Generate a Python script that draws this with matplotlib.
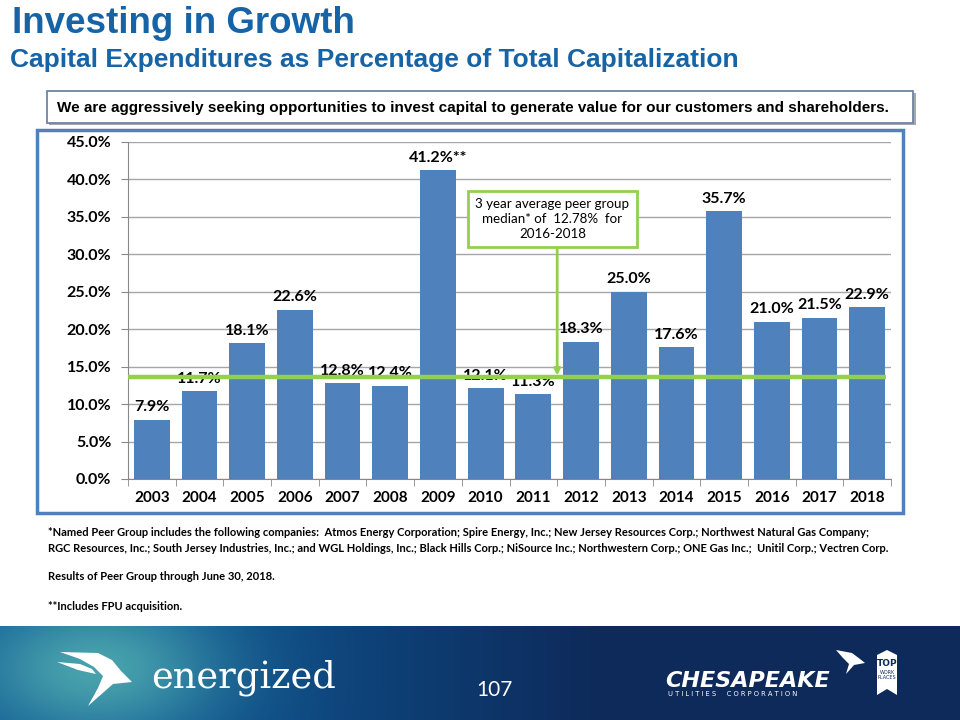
import numpy as np
import matplotlib
matplotlib.use("Agg")
import matplotlib.pyplot as plt
from matplotlib.patches import Rectangle, Polygon
from matplotlib.ticker import FixedLocator, PercentFormatter

years = ["2003", "2004", "2005", "2006", "2007", "2008", "2009", "2010",
         "2011", "2012", "2013", "2014", "2015", "2016", "2017", "2018"]
capex_pct = [7.9, 11.7, 18.1, 22.6, 12.8, 12.4, 41.2, 12.1,
             11.3, 18.3, 25.0, 17.6, 35.7, 21.0, 21.5, 22.9]
bar_labels = ["7.9%", "11.7%", "18.1%", "22.6%", "12.8%", "12.4%", "41.2%**", "12.1%",
              "11.3%", "18.3%", "25.0%", "17.6%", "35.7%", "21.0%", "21.5%", "22.9%"]
peer_line = 13.6
peer_note = "3 year average peer group\nmedian* of  12.78%  for\n2016-2018"

title = "Investing in Growth"
subtitle = "Capital Expenditures as Percentage of Total Capitalization"
tagline = ("We are aggressively seeking opportunities to invest capital to generate "
           "value for our customers and shareholders.")
footnotes = [
    "*Named Peer Group includes the following companies:  Atmos Energy Corporation; Spire Energy, Inc.; "
    "New Jersey Resources Corp.; Northwest Natural Gas Company;",
    "RGC Resources, Inc.; South Jersey Industries, Inc.; and WGL Holdings, Inc.; Black Hills Corp.; "
    "NiSource Inc.; Northwestern Corp.; ONE Gas Inc.;  Unitil Corp.; Vectren Corp.",
    "Results of Peer Group through June 30, 2018.",
    "**Includes FPU acquisition.",
]

BLUE_BAR = "#4F81BD"
GREEN = "#92D050"
TITLE_BLUE = "#1663A5"
W, H = 960, 720

fig = plt.figure(figsize=(9.6, 7.2), dpi=100)

# background canvas in pixel coordinates
bg = fig.add_axes([0, 0, 1, 1], zorder=0)
bg.set_xlim(0, W)
bg.set_ylim(H, 0)
bg.axis("off")

# footer gradient band
xs = np.linspace(0, W, 480)
ys = np.linspace(626, H, 60)
gx, gy = np.meshgrid(xs, ys)
navy = np.array([13, 42, 90]) / 255
mid = np.array([14, 88, 148]) / 255
teal = np.array([72, 162, 172]) / 255
t = np.clip((gx - 150) / 450, 0, 1)[..., None]
base = mid * (1 - t) + navy * t
glow = np.exp(-(((gx - 95) / 120) ** 2 + ((gy - 668) / 70) ** 2))[..., None]
img = base * (1 - glow) + teal * glow
bg.imshow(img, extent=[0, W, H, 626], aspect="auto", zorder=0)

# left bird
bg.add_patch(Polygon([(60, 652), (98, 653), (112, 660), (121, 671), (132, 682), (113, 684),
                      (88, 706), (98, 688), (103, 676), (94, 667), (80, 659)],
                     closed=True, fc="white", ec="none", zorder=2))
bg.add_patch(Polygon([(57, 662), (80, 664), (92, 669), (96, 674), (78, 670)],
                     closed=True, fc="white", ec="none", zorder=2))
bg.text(151, 688, "energized", color="white", fontsize=26.5, family="DejaVu Serif",
        va="baseline", ha="left", zorder=3)
bg.text(494, 690, "107", color="white", fontsize=15, family="Lato", va="center", ha="center", zorder=3)

# chesapeake logo
bg.text(665, 687, "CHESAPEAKE", color="white", fontsize=16, family="DejaVu Sans",
        fontweight="bold", fontstyle="italic", va="baseline", ha="left", zorder=3)
bg.text(668, 694, "U T I L I T I E S     C O R P O R A T I O N", color="white", fontsize=4.9,
        family="DejaVu Sans", va="center", ha="left", zorder=3)
bg.add_patch(Polygon([(836, 650), (852, 653), (860, 659), (865, 663), (854, 665), (846, 674),
                      (849, 664), (843, 658)], closed=True, fc="white", ec="none", zorder=2))
bg.add_patch(Polygon([(877, 655), (887, 650), (897, 655), (897, 695), (887, 689), (877, 695)],
                     closed=True, fc="white", ec="none", zorder=2))
bg.text(887, 664, "TOP", color="#0D2A5A", fontsize=6.5, fontweight="bold", ha="center", va="center", zorder=3)
bg.text(887, 675, "WORK\nPLACES", color="#0D2A5A", fontsize=3.5, ha="center", va="center",
        linespacing=1.0, zorder=3)

# titles
bg.text(12, 33, title, color=TITLE_BLUE, fontsize=26.5, fontweight="bold",
        family="Liberation Sans", va="baseline", ha="left")
bg.text(10, 67, subtitle, color=TITLE_BLUE, fontsize=19, fontweight="bold",
        family="Liberation Sans", va="baseline", ha="left")

# tagline box
bg.add_patch(Rectangle((49, 93), 867, 32, fc="#A8A8A8", ec="none", zorder=1))
bg.add_patch(Rectangle((47, 91), 866, 32, fc="white", ec="#6E85A6", lw=1.3, zorder=2))
bg.text(57, 108, tagline, fontsize=11, fontweight="bold",
        family="Liberation Sans", va="center", ha="left", zorder=3)

# chart border
bg.add_patch(Rectangle((37, 130), 866, 383, fc="white", ec=BLUE_BAR, lw=2.5, zorder=1))

# footnotes
foot_y = [533, 548, 577, 606]
for fy, line in zip(foot_y, footnotes):
    bg.text(48, fy, line, fontsize=8.0, fontweight="bold", family="Lato", va="center", ha="left")

# chart
left, right, top, bottom = 128, 891, 141.7, 479
ax = fig.add_axes([left / W, 1 - bottom / H, (right - left) / W, (bottom - top) / H], zorder=2)
ax.set_facecolor("none")
x = np.arange(len(years))
bars = ax.bar(x, capex_pct, width=0.75, color=BLUE_BAR, zorder=2)
for xi, v, lab in zip(x, capex_pct, bar_labels):
    ax.annotate(lab, (xi, v), xytext=(0, 4), textcoords="offset points", ha="center", va="bottom",
                fontsize=11.5, fontweight="bold", family="Lato", zorder=3)

ax.hlines(peer_line, -0.5, 15.4, color=GREEN, lw=3.2, zorder=4)
ax.text(8.4, 34.7, peer_note, ha="center", va="center", fontsize=9.6, family="Lato",
        linespacing=1.3, zorder=5,
        bbox=dict(boxstyle="square,pad=0.55", fc="white", ec=GREEN, lw=2))
ax.annotate("", xy=(8.5, peer_line + 0.2), xytext=(8.5, 30.8), zorder=5,
            arrowprops=dict(arrowstyle="-|>", color=GREEN, lw=2, mutation_scale=9,
                            shrinkA=0, shrinkB=0))

ax.set_xlim(-0.5, len(years) - 0.5)
ax.set_ylim(0, 45)
ax.yaxis.set_major_locator(FixedLocator(np.arange(0, 46, 5)))
ax.yaxis.set_major_formatter(PercentFormatter(decimals=1))
ax.set_xticks(x)
ax.set_xticklabels(years)
ax.xaxis.set_minor_locator(FixedLocator(np.arange(-0.5, len(years), 1)))
ax.tick_params(axis="x", which="major", length=0, pad=9)
ax.tick_params(axis="x", which="minor", length=5, color="#888888")
ax.tick_params(axis="y", length=5, color="#888888", pad=7)
for lab in ax.get_xticklabels():
    lab.set_fontweight("bold")
    lab.set_fontsize(11)
    lab.set_family("Lato")
for lab in ax.get_yticklabels():
    lab.set_fontweight("bold")
    lab.set_fontsize(11.5)
    lab.set_family("Lato")
ax.grid(axis="y", color="#A6A6A6", lw=1, zorder=0)
ax.set_axisbelow(True)
for s in ["top", "right"]:
    ax.spines[s].set_visible(False)
ax.spines["left"].set_color("#888888")
ax.spines["bottom"].set_color("#888888")

fig.savefig("out.png", dpi=100)
